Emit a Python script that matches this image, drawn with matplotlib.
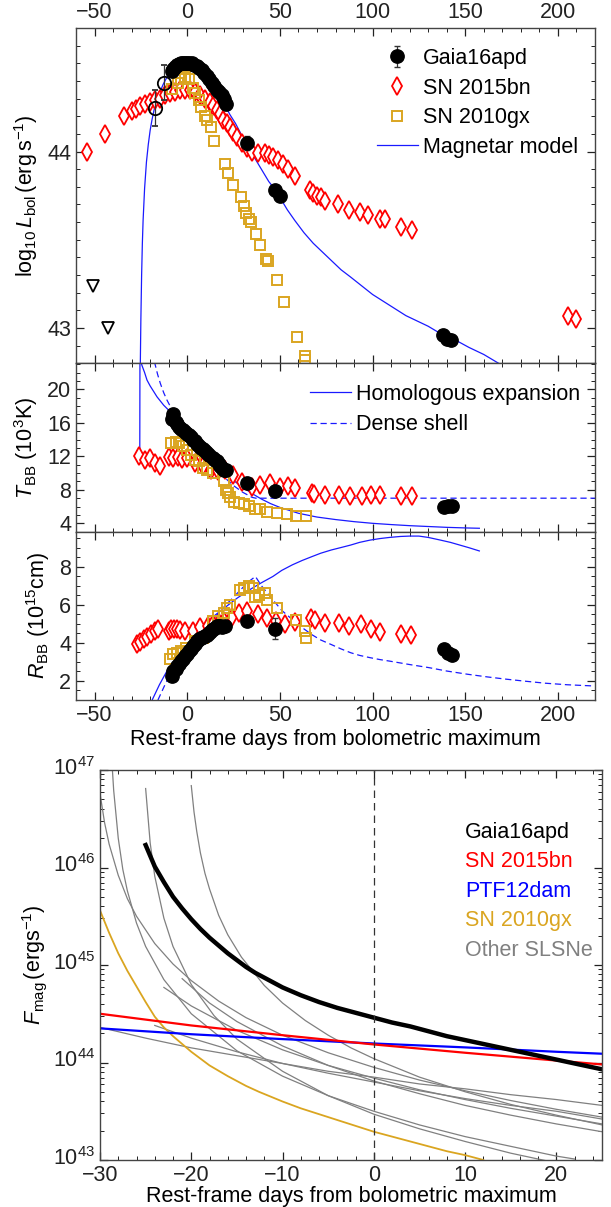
"""Gaia16apd: bolometric light curve, blackbody fits and magnetar input."""

import matplotlib
matplotlib.use("Agg")
import matplotlib.pyplot as plt
from matplotlib.lines import Line2D
from matplotlib.transforms import ScaledTranslation
from matplotlib.ticker import MultipleLocator, LogLocator, NullFormatter

plt.rcParams["font.family"] = ["Liberation Sans", "DejaVu Sans"]
plt.rcParams["mathtext.fontset"] = "custom"
plt.rcParams["mathtext.rm"] = "Liberation Sans"
plt.rcParams["mathtext.it"] = "Liberation Sans:italic"
plt.rcParams["mathtext.bf"] = "Liberation Sans:bold"

FS = 15.5
C_GAIA = "black"
C_15BN = "#FF0000"
C_10GX = "#DAA520"
C_MODEL = "#1A1AFF"
C_PTF = "#0000FF"
C_OTHER = "#808080"

# ---- top panel: log10 L_bol ----
gaia_day = [-8.2, -7.5, -6.5, -5.5, -4.7, -3.5, -2.3, -1.2, -0.2, 1.0, 2.5, 3.8,
            5.2, 6.5, 7.9, 9.2, 10.6, 12.0, 13.3, 14.6, 16.0, 17.3, 18.7, 19.8,
            20.8, 32.1, 47.3, 50.0, 138.0, 140.0, 142.5]
gaia_lum = [44.457, 44.47, 44.48, 44.49, 44.495, 44.50, 44.50, 44.50, 44.50, 44.50,
            44.50, 44.49, 44.485, 44.475, 44.46, 44.445, 44.43, 44.41, 44.39, 44.37,
            44.35, 44.335, 44.32, 44.295, 44.27, 44.05, 43.78, 43.75, 42.96, 42.94,
            42.93]
gaia_lum_err = [0.03, 0.04, 0.04, 0.03, 0.03, 0.03, 0.03, 0.03, 0.03, 0.03, 0.03,
                0.03, 0.03, 0.03, 0.03, 0.03, 0.03, 0.03, 0.03, 0.03, 0.03, 0.03,
                0.03, 0.03, 0.03, 0.04, 0.03, 0.03, 0.02, 0.02, 0.02]
early_day = [-17.2, -12.4]
early_lum = [44.246, 44.39]
early_err = [0.10, 0.10]
limit_day = [-50.7, -43.0]
limit_lum = [43.24, 43.0]

bn_day = [-53.9, -44.6, -33.9, -29.7, -27.4, -25.3, -22.6, -19.9, -17.2, -14.5,
          -11.8, -9.1, -6.5, -3.8, -1.1, 1.6, 4.3, 7.0, 9.7, 12.4, 14.1, 16.0, 17.7,
          19.5, 21.3, 23.1, 24.9, 26.7, 29.4, 32.1, 34.8, 38.3, 41.9, 44.3, 46.4,
          49.1, 51.8, 54.5, 58.1, 66.0, 68.1, 70.2, 72.3, 74.4, 81.3, 87.4, 93.3,
          97.5, 103.8, 106.9, 115.3, 121.2, 205.5, 209.6]
bn_lum = [44.00, 44.10, 44.20, 44.23, 44.24, 44.26, 44.27, 44.28, 44.29, 44.30,
          44.32, 44.33, 44.34, 44.35, 44.35, 44.35, 44.34, 44.32, 44.30, 44.28,
          44.26, 44.235, 44.21, 44.18, 44.16, 44.14, 44.11, 44.08, 44.05, 44.02,
          44.00, 43.99, 43.99, 43.98, 43.97, 43.95, 43.93, 43.90, 43.86, 43.78,
          43.765, 43.75, 43.74, 43.72, 43.70, 43.67, 43.66, 43.64, 43.62, 43.62,
          43.57, 43.555, 43.07, 43.05]

gx_day = [-8.4, -5.2, -3.1, -1.0, 1.0, 3.1, 4.2, 6.3, 7.3, 9.4, 10.5, 12.6, 14.7,
          20.5, 22.0, 24.7, 28.9, 30.4, 31.9, 33.5, 34.6, 37.3, 39.4, 42.3, 43.6,
          48.2, 52.4, 59.1, 63.3, 63.5]
gx_lum = [44.353, 44.39, 44.41, 44.42, 44.41, 44.36, 44.33, 44.29, 44.25, 44.20,
          44.18, 44.14, 44.06, 43.93, 43.88, 43.81, 43.74, 43.69, 43.65, 43.62,
          43.60, 43.53, 43.47, 43.39, 43.38, 43.27, 43.15, 42.95, 42.84, 42.82]

mag_day = [-25.3, -25.0, -24.6, -24.2, -23.8, -23.0, -22.0, -21.0, -20.0, -19.0,
           -18.0, -17.0, -15.0, -13.0, -11.0, -9.0, -7.0, -5.0, -3.0, -1.0, 1.0,
           3.0, 5.0, 7.0, 9.0, 11.0, 13.0, 15.0, 17.0, 20.0, 23.0, 26.0, 29.0,
           32.0, 36.0, 40.0, 44.0, 47.0, 50.0, 54.0, 58.0, 63.0, 68.0, 73.0, 78.0,
           83.0, 88.0, 94.0, 100.0, 106.0, 112.0, 118.0, 124.0, 130.0, 138.0,
           145.0, 152.0, 160.0, 168.0]
mag_lum = [42.80, 43.05, 43.30, 43.48, 43.61, 43.79, 43.94, 44.04, 44.12, 44.18,
           44.23, 44.27, 44.33, 44.38, 44.42, 44.45, 44.47, 44.48, 44.485, 44.485,
           44.48, 44.47, 44.46, 44.44, 44.42, 44.40, 44.37, 44.34, 44.31, 44.27,
           44.21, 44.16, 44.10, 44.05, 43.97, 43.90, 43.83, 43.79, 43.74, 43.67,
           43.61, 43.54, 43.48, 43.43, 43.38, 43.33, 43.29, 43.24, 43.19, 43.15,
           43.11, 43.07, 43.04, 43.01, 42.96, 42.93, 42.89, 42.85, 42.80]

# ---- middle panel: T_BB (10^3 K) ----
gaia_t_day = [-8.4, -7.4, -6.3, -5.3, -4.2, -3.1, -2.1, -1.0, 0.0, 1.1, 2.1, 3.2,
              4.2, 5.3, 6.3, 7.4, 8.4, 9.5, 10.5, 12.0, 13.7, 15.0, 15.8, 17.0,
              17.9, 19.0, 20.0, 21.0, 32.1, 47.3, 138.7, 140.8, 142.9]
gaia_t = [16.5, 17.1, 16.1, 15.8, 15.5, 15.3, 15.1, 14.9, 14.7, 14.5, 14.3, 14.0,
          13.8, 13.5, 13.2, 13.0, 12.85, 12.6, 12.4, 12.1, 11.8, 11.6, 11.4, 11.1,
          10.9, 10.6, 10.4, 10.4, 8.8, 7.83, 6.0, 6.05, 6.1]

bn_t_day = [-26.2, -22.6, -19.9, -17.2, -14.9, -10.0, -7.4, -5.2, -2.9, 0.0, 4.2,
            8.4, 12.6, 16.8, 20.4, 24.9, 29.4, 34.8, 39.2, 44.6, 50.0, 54.5, 58.1,
            67.2, 68.3, 74.6, 81.9, 87.6, 94.1, 99.2, 104.0, 115.5, 121.4]
bn_t = [12.03, 11.56, 11.76, 11.16, 10.84, 11.95, 11.76, 11.88, 11.64, 11.8, 11.2,
        10.8, 10.4, 10.2, 10.36, 9.77, 8.97, 8.37, 8.57, 8.85, 8.37, 8.45, 8.18,
        7.63, 7.50, 7.44, 7.44, 7.24, 7.24, 7.44, 7.44, 7.32, 7.24]

gx_t_day = [-8.8, -6.3, -4.2, -2.1, 0.0, 2.1, 4.2, 6.3, 8.4, 10.5, 13.7, 20.0,
            21.0, 22.0, 23.1, 25.2, 27.7, 30.5, 33.6, 36.8, 39.5, 43.1, 48.7, 53.6,
            58.8, 64.1]
gx_t = [13.56, 13.76, 13.56, 13.2, 12.8, 12.2, 11.6, 11.4, 10.6, 10.4, 10.0, 9.0,
        8.0, 7.6, 7.2, 6.6, 6.45, 6.25, 6.05, 5.74, 5.66, 5.34, 5.26, 5.06, 4.87,
        4.87]

homo_t_day = [-25.6, -25.5, -24.5, -23.0, -21.7, -20.0, -18.0, -16.3, -14.5, -12.7,
              -10.9, -9.1, -7.0, -5.0, -2.5, 0.0, 5.0, 10.0, 15.0, 20.0, 25.0,
              30.0, 35.0, 40.0, 45.0, 50.0, 60.0, 70.0, 80.0, 90.0, 100.0, 110.0,
              120.0, 130.0, 140.0, 150.0, 157.6]
homo_t = [11.3, 24.0, 22.9, 22.0, 21.1, 20.4, 19.7, 19.1, 18.6, 18.1, 17.7, 17.3,
          16.7, 16.0, 15.3, 14.6, 13.3, 12.0, 10.9, 10.0, 9.1, 8.3, 7.55, 6.9,
          6.35, 5.9, 5.2, 4.75, 4.45, 4.2, 4.0, 3.85, 3.72, 3.62, 3.52, 3.45, 3.41]

dense_t_day = [-17.7, -16.0, -14.5, -12.7, -10.9, -9.0, -7.0, -5.0, -2.5, 0.0, 2.5,
               5.0, 7.5, 10.0, 12.5, 15.0, 17.5, 20.0, 22.5, 25.0, 27.5, 30.0,
               32.5, 35.0, 37.0, 220.0]
dense_t = [23.3, 21.8, 20.7, 19.6, 18.7, 17.9, 17.1, 16.4, 15.5, 14.7, 13.9, 13.2,
           12.5, 11.8, 11.2, 10.6, 10.0, 9.5, 9.0, 8.5, 8.1, 7.7, 7.4, 7.1, 7.0,
           7.0]

# ---- lower panel: R_BB (10^15 cm) ----
gaia_r_day = [-8.4, -7.4, -6.3, -5.3, -4.2, -3.2, -2.1, -1.1, 0.0, 1.1, 2.1, 3.2,
              4.2, 5.3, 6.3, 7.4, 8.4, 9.5, 10.5, 11.6, 12.6, 13.7, 14.8, 15.8,
              17.0, 17.9, 19.0, 20.6, 32.1, 47.3, 138.7, 140.8, 142.9]
gaia_r = [2.26, 2.52, 2.65, 2.78, 2.90, 3.04, 3.17, 3.30, 3.43, 3.56, 3.70, 3.83,
          3.96, 4.09, 4.18, 4.26, 4.30, 4.35, 4.43, 4.52, 4.60, 4.70, 4.78, 4.87,
          4.87, 4.87, 4.85, 4.87, 5.17, 4.73, 3.65, 3.48, 3.34]
gaia_r_err = [0.05] * 29 + [0.55, 0.05, 0.05, 0.05]

bn_r_day = [-27.3, -25.5, -23.5, -21.5, -19.5, -17.5, -16.0, -10.0, -8.5, -7.0,
            -5.5, -4.0, -1.0, 3.0, 7.0, 11.0, 14.0, 17.0, 20.0, 24.0, 28.0, 32.0,
            38.0, 43.0, 48.0, 53.0, 58.0, 67.0, 69.0, 74.5, 82.0, 87.5, 94.0,
            99.0, 104.0, 115.5, 121.0]
bn_r = [3.95, 4.05, 4.20, 4.30, 4.45, 4.60, 4.75, 4.60, 4.70, 4.75, 4.70, 4.65,
        4.60, 4.60, 4.85, 4.90, 5.00, 5.05, 5.15, 5.35, 5.55, 5.65, 5.50, 5.30,
        5.15, 5.00, 5.10, 5.30, 5.20, 5.05, 5.05, 4.90, 5.00, 4.75, 4.55, 4.45,
        4.40]

gx_r_day = [-9.5, -7.4, -5.3, -3.2, -0.4, 4.2, 8.4, 13.7, 16.8, 20.0, 21.4, 23.1,
            28.4, 30.5, 33.2, 35.3, 36.8, 38.9, 42.0, 43.1, 48.7, 58.8, 63.4, 64.1]
gx_r = [3.13, 3.39, 3.48, 3.56, 3.74, 4.09, 4.26, 5.13, 5.39, 5.57, 5.83, 6.00,
        6.78, 6.87, 6.96, 6.87, 6.43, 6.52, 6.60, 6.26, 5.83, 5.22, 4.61, 4.26]

homo_r_day = [-18.9, -15.0, -10.5, -5.0, 0.0, 5.0, 10.5, 15.0, 21.0, 27.0, 33.6,
              40.0, 46.2, 51.0, 56.7, 62.0, 67.2, 72.0, 77.7, 83.0, 88.2, 93.0,
              98.7, 104.0, 109.2, 115.0, 120.0, 125.0, 130.0, 136.6, 142.0, 147.0,
              152.0, 157.6]
homo_r = [1.0, 1.8, 2.6, 3.25, 3.83, 4.45, 5.04, 5.45, 5.9, 6.35, 6.78, 7.15, 7.48,
          7.8, 8.09, 8.32, 8.52, 8.7, 8.87, 9.0, 9.13, 9.27, 9.39, 9.47, 9.53, 9.58,
          9.6, 9.6, 9.53, 9.39, 9.27, 9.13, 8.99, 8.82]

dense_r_day = [-15.8, -12.0, -8.0, -4.0, 0.0, 5.0, 10.0, 15.0, 20.0, 25.0, 30.0,
               33.0, 36.8, 40.0, 46.2, 51.0, 56.7, 62.0, 67.2, 72.0, 77.7, 83.0,
               88.2, 93.0, 98.7, 104.0, 109.2, 120.0, 130.3, 140.0, 151.3, 162.0,
               172.3, 183.0, 193.3, 205.0, 218.5]
dense_r = [1.0, 1.8, 2.55, 3.1, 3.6, 4.2, 4.8, 5.35, 5.9, 6.4, 6.9, 7.2, 7.48,
           7.0, 6.26, 5.7, 5.22, 4.8, 4.43, 4.15, 3.91, 3.68, 3.48, 3.34, 3.22,
           3.12, 3.04, 2.86, 2.7, 2.52, 2.35, 2.21, 2.09, 1.98, 1.88, 1.8, 1.74]

# ---- bottom panel: magnetar input F_mag (log10 erg/s) ----
fm_gaia_day = [-25, -24.5, -24, -23, -22, -21, -20, -19, -18, -17, -16, -15, -14,
               -13, -12, -11, -10, -8, -6, -4, -2, 0, 2, 4, 6, 8, 10, 12, 14, 16,
               18, 20, 22, 25]
fm_gaia = [46.23, 46.12, 46.01, 45.85, 45.70, 45.58, 45.47, 45.37, 45.28, 45.20,
           45.12, 45.05, 44.98, 44.92, 44.87, 44.82, 44.77, 44.69, 44.62, 44.56,
           44.51, 44.46, 44.41, 44.37, 44.32, 44.27, 44.23, 44.19, 44.15, 44.11,
           44.07, 44.03, 43.99, 43.93]
fm_15bn_day = [-30, -20, -10, 0, 10, 20, 25]
fm_15bn = [44.50, 44.38, 44.28, 44.185, 44.10, 44.02, 43.98]
fm_ptf_day = [-30, -20, -10, 0, 10, 20, 25]
fm_ptf = [44.35, 44.29, 44.24, 44.195, 44.155, 44.11, 44.09]
fm_10gx_day = [-30, -29, -28, -27, -26, -25, -24, -23, -22, -20, -18, -16, -14,
               -12.6, -10, -8, -6, -4, -2, 0, 2, 4, 6, 8, 10, 12]
fm_10gx = [45.56, 45.33, 45.12, 44.94, 44.78, 44.62, 44.47, 44.36, 44.27, 44.11,
           43.97, 43.86, 43.76, 43.70, 43.60, 43.53, 43.47, 43.41, 43.35, 43.29,
           43.24, 43.19, 43.14, 43.09, 43.05, 43.00]

other_days = [
    [-28.64, -28.5, -28.0, -27.5, -27.0, -26.0, -25.0, -23.0, -20.0, -15.0, -10.0,
     -5.0, 0.0, 5.0, 10.0, 15.0, 20.0, 22.0],
    [-30.0, -29.5, -29.0, -28.0, -27.0, -26.0, -24.0, -22.0, -20.0, -17.0, -14.0,
     -10.0, -5.0, 0.0, 5.0, 10.0, 15.0, 20.0, 25.0],
    [-25.0, -24.5, -24.0, -23.0, -22.0, -20.0, -17.5, -15.0, -10.0, -5.0, 0.0,
     5.0, 10.0, 15.0, 19.0],
    [-20.0, -19.7, -19.4, -19.0, -18.5, -18.0, -17.0, -16.0, -14.5, -12.0, -10.0,
     -7.5, -5.0, -2.5, 0.0, 5.0, 10.0, 15.0, 20.0, 25.0],
    [-23.0, -20.0, -15.0, -10.0, -5.0, 0.0, 5.0, 10.0, 15.0, 20.0, 25.0],
    [-21.0, -18.0, -15.0, -10.0, -5.0, 0.0, 5.0, 10.0, 15.0, 20.0, 25.0],
    [-24.0, -20.0, -15.0, -10.0, -5.0, 0.0, 5.0, 10.0, 15.0, 20.0, 25.0],
    [-30.0, -25.0, -20.0, -15.0, -10.0, -5.0, 0.0, 5.0, 10.0, 15.0, 20.0, 25.0],
]
other_vals = [
    [47.0, 46.79, 46.30, 45.98, 45.76, 45.43, 45.19, 44.85, 44.50, 44.12, 43.86,
     43.66, 43.50, 43.36, 43.24, 43.14, 43.04, 43.01],
    [46.76, 46.46, 46.24, 45.92, 45.68, 45.50, 45.22, 45.01, 44.84, 44.63, 44.46,
     44.28, 44.10, 43.95, 43.82, 43.71, 43.61, 43.52, 43.44],
    [46.81, 46.25, 45.91, 45.48, 45.19, 44.80, 44.48, 44.24, 43.91, 43.66, 43.47,
     43.32, 43.19, 43.07, 42.99],
    [46.84, 46.57, 46.37, 46.15, 45.94, 45.78, 45.51, 45.31, 45.08, 44.79, 44.61,
     44.43, 44.28, 44.15, 44.04, 43.85, 43.70, 43.57, 43.46, 43.36],
    [44.77, 44.58, 44.33, 44.13, 43.97, 43.84, 43.72, 43.62, 43.53, 43.45, 43.37],
    [44.86, 44.61, 44.42, 44.17, 43.97, 43.81, 43.68, 43.56, 43.46, 43.37, 43.29],
    [44.38, 44.25, 44.11, 43.99, 43.89, 43.80, 43.71, 43.63, 43.56, 43.50, 43.42],
    [44.36, 44.25, 44.15, 44.07, 43.99, 43.91, 43.85, 43.78, 43.73, 43.67, 43.62,
     43.56],
]

W, H = 611, 1207


def _frac(left, top, right, bottom):
    """Pixel box -> figure-fraction rect."""
    return [left / W, 1 - bottom / H, (right - left) / W, (bottom - top) / H]


def _style(ax, xmaj, xmin, ymaj=None, ymin=None):
    ax.tick_params(which="both", direction="in", top=True, right=True,
                   labelsize=FS, colors="#222222")
    ax.tick_params(which="major", length=5.5, width=0.9)
    ax.tick_params(which="minor", length=2.8, width=0.7)
    ax.xaxis.set_major_locator(MultipleLocator(xmaj))
    ax.xaxis.set_minor_locator(MultipleLocator(xmin))
    if ymaj:
        ax.yaxis.set_major_locator(MultipleLocator(ymaj))
        ax.yaxis.set_minor_locator(MultipleLocator(ymin))
    for s in ax.spines.values():
        s.set_color("#444444")
        s.set_linewidth(1.0)


def _points(ax, d_gaia, v_gaia, e_gaia, d_bn, v_bn, d_gx, v_gx):
    ax.plot(d_bn, v_bn, ls="none", marker="d", ms=9, mfc="white", mec=C_15BN,
            mew=1.3, zorder=3)
    ax.plot(d_gx, v_gx, ls="none", marker="s", ms=7.5, mfc="none", mec=C_10GX,
            mew=1.4, zorder=3)
    return ax.errorbar(d_gaia, v_gaia, yerr=e_gaia, fmt="o", ms=9.6, color=C_GAIA,
                       ecolor="#333333", elinewidth=0.9, capsize=2.5, zorder=4)


def main():
    fig = plt.figure(figsize=(W / 100, H / 100), dpi=100)
    leg_kw = dict(bbox_transform=fig.transFigure, frameon=False, fontsize=FS,
                  borderpad=0, borderaxespad=0, loc="upper left")

    # top: luminosity
    ax1 = fig.add_axes(_frac(76, 28, 595, 363.3))
    ax1.plot(mag_day, mag_lum, color=C_MODEL, lw=0.9, zorder=2)
    gaia_h = _points(ax1, gaia_day, gaia_lum, gaia_lum_err, bn_day, bn_lum, gx_day, gx_lum)
    ax1.errorbar(early_day, early_lum, yerr=early_err, fmt="o", ms=9.6, mfc="none",
                 mec="black", mew=1.3, ecolor="#333333", elinewidth=0.9, capsize=2.5,
                 zorder=4)
    ax1.plot(limit_day, limit_lum, ls="none", marker="v", ms=8, mfc="none",
             mec="black", mew=1.3)
    ax1.set_xlim(-60, 220)
    ax1.set_ylim(42.8, 44.7)
    _style(ax1, 50, 10, 1, 0.1)
    ax1.tick_params(labeltop=True, labelbottom=False)
    ax1.set_ylabel(r"$\log_{10}L_{\rm bol}\,(\rm erg\,s^{-1})$", fontsize=FS, labelpad=5)
    handles = [
        gaia_h,
        Line2D([], [], ls="none", marker="d", ms=9, mfc="white", mec=C_15BN, mew=1.3),
        Line2D([], [], ls="none", marker="s", ms=7.5, mfc="none", mec=C_10GX, mew=1.4),
        Line2D([], [], color=C_MODEL, lw=0.9),
    ]
    ax1.legend(handles, ["Gaia16apd", "SN 2015bn", "SN 2010gx", "Magnetar model"],
               bbox_to_anchor=(377 / W, 1 - 48 / H), handlelength=1.9,
               handletextpad=0.22, labelspacing=0.40, **leg_kw)

    # middle: temperature
    ax2 = fig.add_axes(_frac(76, 363.3, 595, 531.7))
    ax2.plot(homo_t_day, homo_t, color=C_MODEL, lw=0.9, zorder=2)
    ax2.plot(dense_t_day, dense_t, color=C_MODEL, lw=0.9, ls=(0, (5, 3)), zorder=2)
    _points(ax2, gaia_t_day, gaia_t, None, bn_t_day, bn_t, gx_t_day, gx_t)
    ax2.set_xlim(-60, 220)
    ax2.set_ylim(3, 23.1)
    _style(ax2, 50, 10, 4, 1)
    ax2.tick_params(labelbottom=False)
    ax2.set_ylabel(r"$T_{\rm BB}\ (10^3\rm K)$", fontsize=FS, labelpad=5)
    ax2.legend([Line2D([], [], color=C_MODEL, lw=0.9),
                Line2D([], [], color=C_MODEL, lw=0.9, ls=(0, (5, 3)))],
               ["Homologous expansion", "Dense shell"],
               bbox_to_anchor=(310 / W, 1 - 384 / H), handlelength=1.9,
               handletextpad=0.22, labelspacing=0.42, **leg_kw)

    # lower: radius
    ax3 = fig.add_axes(_frac(76, 531.7, 595, 700))
    ax3.plot(homo_r_day, homo_r, color=C_MODEL, lw=0.9, zorder=2)
    ax3.plot(dense_r_day, dense_r, color=C_MODEL, lw=0.9, ls=(0, (5, 3)), zorder=2)
    _points(ax3, gaia_r_day, gaia_r, gaia_r_err, bn_r_day, bn_r, gx_r_day, gx_r)
    ax3.set_xlim(-60, 220)
    ax3.set_ylim(1, 9.83)
    _style(ax3, 50, 10, 2, 0.5)
    ax3.set_ylabel(r"$R_{\rm BB}\ (10^{15}\rm cm)$", fontsize=FS, labelpad=5)
    ax3.set_xlabel("Rest-frame days from bolometric maximum", fontsize=FS, labelpad=2)

    # bottom: magnetar input power
    ax4 = fig.add_axes(_frac(100, 770, 602, 1160))
    for d, v in zip(other_days, other_vals):
        ax4.plot(d, [10 ** x for x in v], color=C_OTHER, lw=0.9)
    ax4.plot(fm_10gx_day, [10 ** x for x in fm_10gx], color=C_10GX, lw=1.3)
    ax4.plot(fm_ptf_day, [10 ** x for x in fm_ptf], color=C_PTF, lw=1.6)
    ax4.plot(fm_15bn_day, [10 ** x for x in fm_15bn], color=C_15BN, lw=1.6)
    ax4.plot(fm_gaia_day, [10 ** x for x in fm_gaia], color=C_GAIA, lw=3.2)
    ax4.axvline(0, color="#333333", lw=0.9, ls=(0, (6, 4)))
    ax4.set_yscale("log")
    ax4.set_xlim(-30, 25)
    ax4.set_ylim(1e43, 1e47)
    _style(ax4, 10, 2)
    ax4.tick_params(axis="x", pad=3.5)
    ax4.yaxis.set_major_locator(LogLocator(base=10, numticks=10))
    ax4.yaxis.set_minor_locator(LogLocator(base=10, subs=range(2, 10), numticks=10))
    ax4.yaxis.set_minor_formatter(NullFormatter())
    ax4.set_ylabel(r"$F_{\rm mag}\,(\rm erg s^{-1})$", fontsize=FS, labelpad=3)
    ax4.set_xlabel("Rest-frame days from bolometric maximum", fontsize=FS, labelpad=0)
    names = ["Gaia16apd", "SN 2015bn", "PTF12dam", "SN 2010gx", "Other SLSNe"]
    cols = [C_GAIA, C_15BN, C_PTF, C_10GX, C_OTHER]
    ax4.legend([Line2D([], [], lw=0) for _ in names], names, labelcolor=cols,
               bbox_to_anchor=(465 / W, 1 - 822 / H), handlelength=0,
               handletextpad=0, labelspacing=0.39, **leg_kw)

    # the decade labels sit a little above their ticks, as in the original
    fig.canvas.draw()
    lift = ScaledTranslation(0, 4 / 100, fig.dpi_scale_trans)
    for tick in ax4.yaxis.get_major_ticks():
        tick.label1.set_transform(tick.label1.get_transform() + lift)

    fig.savefig("out.png", dpi=100)


if __name__ == "__main__":
    main()
